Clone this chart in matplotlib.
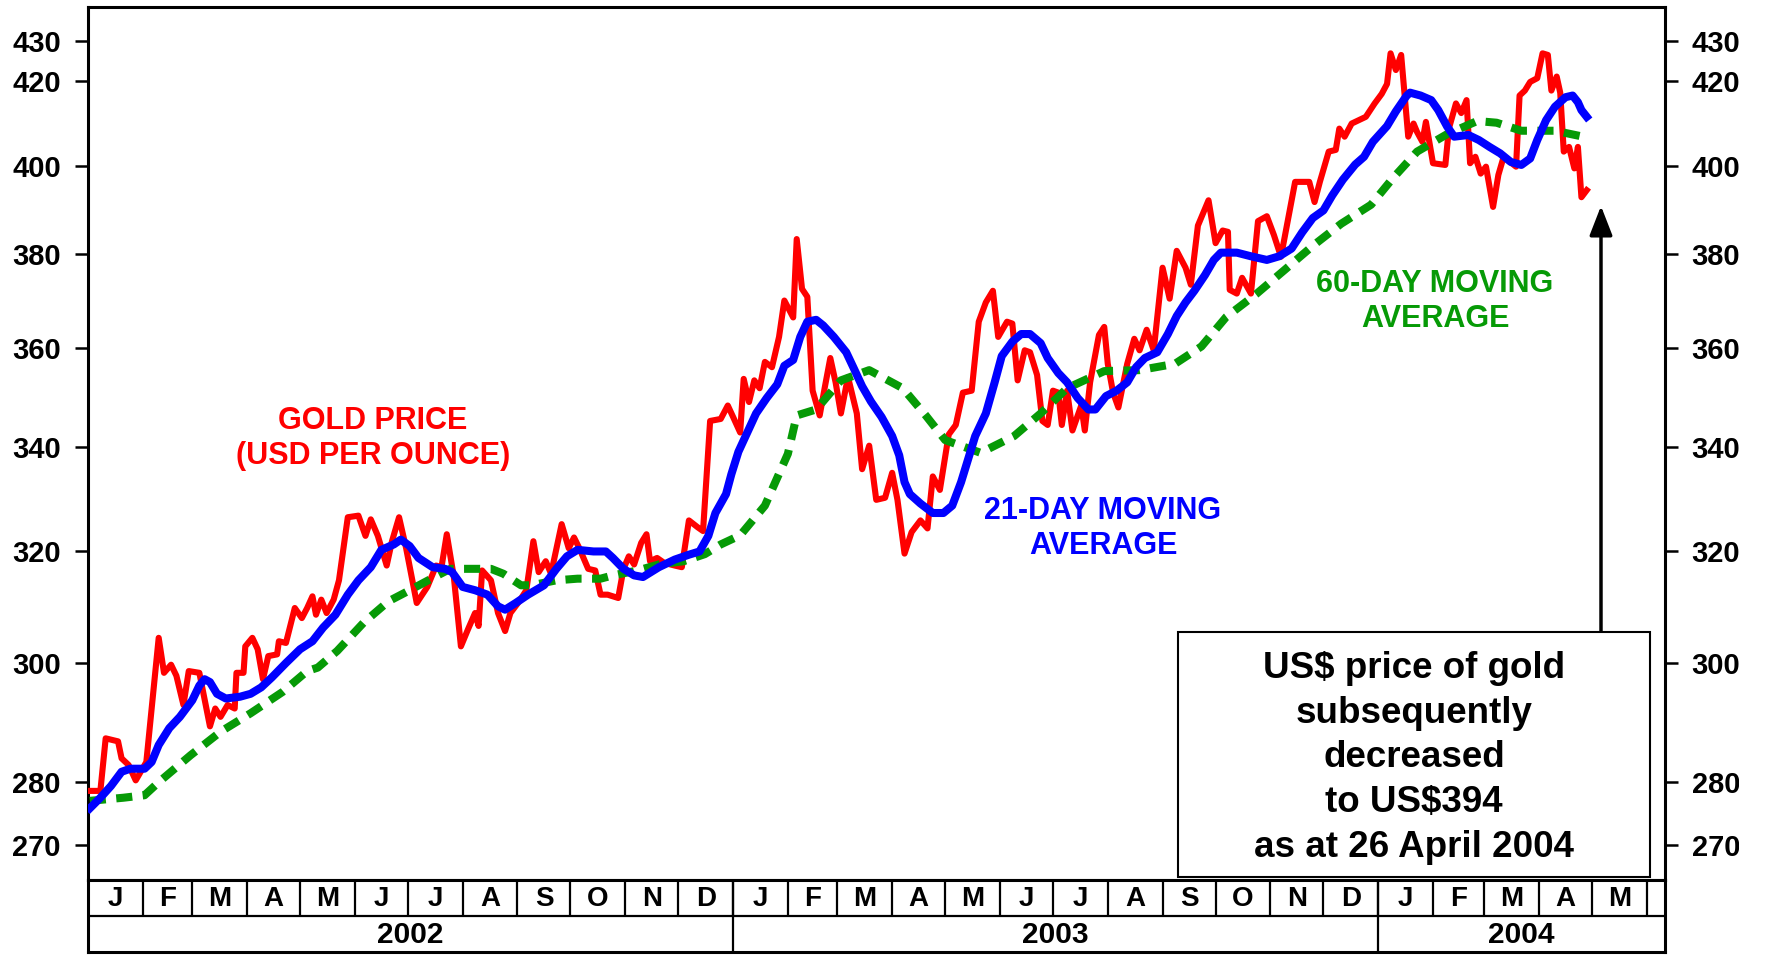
import numpy as np
import matplotlib
matplotlib.use('Agg')
import matplotlib.pyplot as plt
from matplotlib.patches import Rectangle
from matplotlib.ticker import NullLocator

plt.rcParams['font.family'] = ['Liberation Sans', 'DejaVu Sans']
plt.rcParams['font.weight'] = 'bold'

# gold price, days counted from 1 Jan 2002
gold_day = [1, 7, 10, 17, 19, 23, 27, 33, 40, 43, 47, 50, 54, 57, 63, 69, 72, 75, 79, 83,
            84, 88, 89, 93, 96, 99, 102, 107, 108, 112, 117, 121, 124, 127, 129, 132, 135, 139, 142, 147,
            153, 157, 160, 164, 169, 172, 176, 180, 186, 192, 197, 200, 203, 207, 211, 215, 219, 221, 223, 228,
            232, 236, 239, 244, 248, 252, 255, 259, 262, 268, 272, 275, 278, 283, 287, 290, 294, 300, 303, 306,
            309, 313, 316, 318, 322, 326, 332, 336, 340, 345, 348, 352, 358, 362, 365, 369, 371, 374, 377, 380,
            383, 387, 391, 394, 399, 401, 404, 407, 410, 414, 417, 420, 423, 426, 430, 435, 438, 442, 446, 451,
            455, 458, 462, 466, 471, 475, 478, 482, 487, 491, 495, 500, 504, 508, 512, 515, 520, 523, 526, 530,
            533, 537, 540, 543, 546, 549, 551, 554, 557, 562, 564, 567, 572, 575, 577, 580, 583, 588, 592, 595,
            599, 603, 608, 612, 616, 621, 624, 628, 634, 638, 642, 645, 646, 650, 653, 658, 662, 667, 671, 675,
            683, 691, 694, 697, 702, 706, 708, 711, 715, 723, 728, 732, 735, 737, 740, 743, 747, 750, 752, 755,
            757, 761, 768, 770, 774, 777, 780, 782, 785, 788, 791, 795, 798, 801, 808, 810, 813, 816, 820, 823,
            826, 828, 831, 833, 835, 838, 841, 843, 845, 848]
gold_usd = [278.6, 278.6, 287.2, 286.7, 283.9, 282.8, 280.3, 283.3, 304.4, 298.3, 299.7, 297.8, 292.8, 298.6, 298.3, 289.2, 292.2, 290.8, 292.8, 292.2,
            298.3, 298.3, 302.9, 304.4, 302.4, 297.2, 301.2, 301.5, 303.8, 303.5, 309.7, 307.9, 309.7, 311.8, 308.5, 311.2, 308.8, 311.2, 314.7, 326.4,
            326.7, 322.9, 326.0, 322.9, 317.4, 321.9, 326.4, 320.6, 310.6, 313.5, 317.4, 317.1, 323.2, 315.3, 302.9, 305.9, 308.8, 306.5, 316.5, 314.7,
            308.8, 305.6, 308.8, 310.9, 312.9, 321.9, 316.2, 318.2, 315.9, 325.1, 320.6, 322.6, 320.6, 316.8, 316.5, 312.1, 312.1, 311.5, 316.8, 319.1,
            317.6, 321.6, 323.2, 318.2, 318.8, 317.9, 317.4, 317.1, 325.8, 324.5, 323.8, 345.1, 345.5, 348.2, 345.9, 342.8, 353.6, 348.9, 353.3, 351.7,
            357.1, 356.0, 362.3, 370.0, 366.4, 383.4, 372.5, 370.8, 351.2, 346.2, 352.1, 357.9, 352.9, 346.6, 354.0, 346.6, 335.6, 340.2, 329.7, 330.1,
            334.9, 329.7, 319.6, 323.6, 325.8, 324.3, 334.2, 331.6, 342.4, 344.3, 350.8, 351.2, 365.5, 369.6, 372.1, 362.3, 365.5, 365.1, 353.3, 359.5,
            359.1, 354.4, 345.1, 344.3, 351.2, 350.8, 344.3, 351.2, 343.2, 348.2, 343.2, 352.9, 362.7, 364.4, 356.7, 350.8, 347.8, 356.7, 361.9, 359.5,
            363.8, 359.5, 377.1, 370.4, 380.8, 377.1, 373.4, 386.4, 392.1, 382.5, 385.3, 385.0, 372.3, 371.5, 374.9, 371.5, 387.4, 388.5, 384.3, 379.5,
            396.3, 396.3, 391.7, 396.3, 403.3, 403.7, 408.7, 406.8, 409.9, 411.5, 414.7, 417.0, 419.4, 426.9, 422.8, 426.5, 406.8, 409.9, 407.9, 405.6,
            410.3, 400.6, 400.2, 408.7, 414.7, 412.4, 415.5, 400.6, 402.1, 398.2, 399.8, 390.6, 397.9, 402.1, 399.8, 416.6, 417.8, 419.9, 420.8, 426.9,
            426.5, 417.8, 421.2, 417.3, 403.3, 404.4, 399.4, 404.4, 392.8, 394.4]

# 21-day moving average
ma21_day = [1, 7, 13, 19, 24, 32, 36, 40, 46, 52, 59, 63, 66, 69, 73, 78, 86, 92, 98, 104,
            112, 120, 127, 133, 140, 147, 153, 160, 166, 173, 177, 182, 187, 195, 202, 206, 212, 219, 226, 232,
            236, 242, 249, 258, 265, 271, 277, 286, 293, 297, 303, 309, 314, 323, 332, 340, 346, 351, 355, 361,
            364, 368, 373, 378, 384, 390, 394, 399, 403, 407, 412, 416, 422, 429, 433, 438, 443, 449, 455, 459,
            462, 465, 471, 478, 484, 489, 494, 498, 502, 508, 513, 517, 523, 528, 533, 539, 543, 549, 554, 560,
            566, 570, 576, 582, 588, 593, 598, 605, 611, 616, 621, 626, 632, 637, 641, 650, 658, 667, 674, 681,
            687, 693, 699, 704, 710, 717, 722, 727, 735, 740, 746, 748, 754, 760, 764, 769, 773, 781, 787, 793,
            799, 805, 811, 816, 820, 825, 830, 836, 840, 843, 845, 848]
ma21_usd = [275.8, 277.5, 279.4, 281.7, 282.2, 282.2, 283.3, 286.1, 288.9, 290.8, 293.6, 296.1, 297.2, 296.7, 294.7, 293.9, 294.2, 294.7, 295.8, 297.5,
            300.0, 302.4, 303.8, 306.2, 308.5, 312.1, 314.7, 317.1, 320.3, 321.3, 322.2, 321.0, 318.8, 317.1, 316.8, 316.2, 313.5, 312.9, 312.1, 310.0,
            309.4, 310.6, 312.1, 313.8, 316.8, 319.1, 320.3, 320.0, 320.0, 318.8, 316.8, 315.6, 315.3, 317.1, 318.5, 319.4, 320.0, 322.9, 327.2, 330.8,
            334.6, 339.0, 342.8, 346.6, 349.7, 352.5, 356.3, 357.5, 362.3, 365.5, 365.9, 364.7, 362.3, 359.1, 356.0, 352.1, 349.0, 345.9, 342.1, 338.3,
            333.1, 330.8, 329.0, 327.2, 327.2, 328.6, 333.1, 337.6, 342.1, 346.6, 352.9, 358.3, 361.3, 362.9, 362.9, 361.0, 357.9, 354.8, 352.9, 349.7,
            347.4, 347.4, 350.1, 351.2, 352.9, 356.0, 357.9, 359.1, 362.9, 366.7, 369.6, 372.1, 375.5, 378.8, 380.4, 380.4, 379.6, 378.8, 379.6, 381.3,
            384.9, 388.1, 389.8, 393.2, 396.8, 400.3, 402.1, 405.6, 409.3, 412.8, 416.5, 417.3, 416.6, 415.5, 413.1, 409.2, 406.8, 407.2, 406.0, 404.4,
            402.9, 400.9, 400.2, 401.7, 406.0, 410.7, 413.9, 416.2, 416.6, 415.0, 413.1, 411.5]

# 60-day moving average
ma60_day = [1, 20, 32, 40, 58, 75, 92, 110, 124, 130, 141, 156, 170, 182, 196, 205, 228, 235, 245, 251,
            265, 277, 290, 297, 311, 323, 337, 349, 358, 369, 383, 396, 401, 412, 426, 442, 461, 474, 485, 505,
            524, 539, 554, 575, 595, 615, 630, 644, 661, 677, 693, 709, 726, 738, 752, 769, 786, 797, 811, 830,
            846]
ma60_usd = [277.0, 277.5, 277.9, 280.0, 284.4, 288.3, 291.4, 295.0, 298.6, 299.2, 302.1, 307.1, 310.9, 312.9, 315.3, 316.8, 316.8, 315.9, 313.8, 313.8,
            314.7, 315.0, 315.0, 315.6, 316.5, 317.6, 318.2, 319.5, 321.3, 323.0, 328.6, 338.6, 346.2, 347.4, 353.3, 355.4, 351.7, 346.2, 341.3, 338.8,
            342.1, 346.6, 351.7, 355.2, 355.4, 356.7, 360.3, 366.5, 371.4, 376.6, 381.9, 386.8, 391.1, 397.0, 403.3, 407.4, 410.5, 410.1, 408.2, 408.2,
            406.8]

y_ticks = [270, 280, 300, 320, 340, 360, 380, 400, 420, 430]
month_letters = ['J', 'F', 'M', 'A', 'M', 'J', 'J', 'A', 'S', 'O', 'N', 'D']
years = ['2002', '2003', '2004']

gold_label = ['GOLD PRICE', '(USD PER OUNCE)']
ma21_label = ['21-DAY MOVING', 'AVERAGE']
ma60_label = ['60-DAY MOVING', 'AVERAGE']
note_lines = ['US$ price of gold', 'subsequently', 'decreased', 'to US$394', 'as at 26 April 2004']

RED = '#ff0000'
BLUE = '#0000ff'
GREEN = '#069a06'

W, H = 1767, 958
fig = plt.figure(figsize=(W / 100, H / 100), dpi=100)
fig.patch.set_facecolor('white')


def fx(px):
    return px / W


def fy(py):
    return 1 - py / H


# plot frame in pixels
L, R, T, B = 88, 1664.5, 7, 880
start = np.datetime64('2002-01-01')
x_end = 892

ax = fig.add_axes([fx(L), fy(B), fx(R) - fx(L), fy(T) - fy(B)])
ax.plot(gold_day, gold_usd, color=RED, lw=4.4, zorder=3)
ax.plot(ma60_day, ma60_usd, color=GREEN, lw=5.8, ls=(0, (2.0, 1.3)), zorder=4)
ax.plot(ma21_day, ma21_usd, color=BLUE, lw=5.8, zorder=5)

ax.set_yscale('log')
ax.set_ylim(264.6, 438.5)
ax.set_xlim(0, x_end)
ax.set_yticks(y_ticks)
ax.set_yticklabels([str(v) for v in y_ticks])
ax.yaxis.set_minor_locator(NullLocator())
ax.set_xticks([])
ax.tick_params(axis='y', direction='out', length=9.5, width=1.8, pad=10,
               labelsize=21, right=True, labelright=True)
for s in ax.spines.values():
    s.set_linewidth(2.2)

# month / year strip under the chart
months = np.arange('2002-01', '2004-07', dtype='datetime64[M]')
month_day = (months.astype('datetime64[D]') - start).astype(int)
year_day = [d for d, m in zip(month_day, months) if m.astype(int) % 12 == 0]

ax2 = fig.add_axes([fx(L), fy(952), fx(R) - fx(L), fy(B) - fy(952)])
ax2.set_xlim(0, x_end)
ax2.set_ylim(0, 2)
ax2.set_xticks([])
ax2.set_yticks([])
for s in ax2.spines.values():
    s.set_linewidth(2.2)
ax2.axhline(1, color='black', lw=1.6)
ax2.vlines(month_day[1:], 1, 2, color='black', lw=1.6)
ax2.vlines(year_day[1:], 0, 2, color='black', lw=1.6)
for i in range(len(month_day) - 1):
    ax2.text((month_day[i] + month_day[i + 1]) / 2, 1.47, month_letters[months[i].astype(int) % 12],
             ha='center', va='center', fontsize=20, fontweight='bold')
year_edges = list(year_day) + [x_end]
for i, yr in enumerate(years):
    ax2.text((year_edges[i] + year_edges[i + 1]) / 2, 0.47, yr,
             ha='center', va='center', fontsize=21.5, fontweight='bold')

# series labels
for i, line in enumerate(gold_label):
    fig.text(fx(373), fy(429 + 35 * i), line, ha='center', va='baseline',
             fontsize=22, fontweight='bold', color=RED)
for i, line in enumerate(ma21_label):
    fig.text(fx(1103), fy(519 + 35 * i), line, ha='center', va='baseline',
             fontsize=22, fontweight='bold', color=BLUE)
for i, line in enumerate(ma60_label):
    fig.text(fx(1435), fy(292 + 35 * i), line, ha='center', va='baseline',
             fontsize=22, fontweight='bold', color=GREEN)

# note box and arrow
fig.patches.append(Rectangle((fx(1178), fy(877)), fx(1650) - fx(1178), fy(632) - fy(877),
                             transform=fig.transFigure, facecolor='white',
                             edgecolor='black', lw=1.5, zorder=5))
for i, line in enumerate(note_lines):
    fig.text(fx(1414), fy(678 + 44.7 * i), line, ha='center', va='baseline',
             fontsize=26.5, fontweight='bold', color='black', zorder=6)

ax.annotate('', xy=(fx(1601), fy(206)), xycoords='figure fraction',
            xytext=(fx(1601), fy(632)), textcoords='figure fraction',
            arrowprops=dict(arrowstyle='-|>,head_width=0.35,head_length=0.9',
                            mutation_scale=20, lw=2.5, color='black',
                            shrinkA=0, shrinkB=0))

# the right tick labels are cut off at the picture edge
fig.patches.append(Rectangle((fx(1739), 0), 1 - fx(1739), 1, transform=fig.transFigure,
                             facecolor='white', edgecolor='none', zorder=10))

fig.savefig('out.png', dpi=100)
